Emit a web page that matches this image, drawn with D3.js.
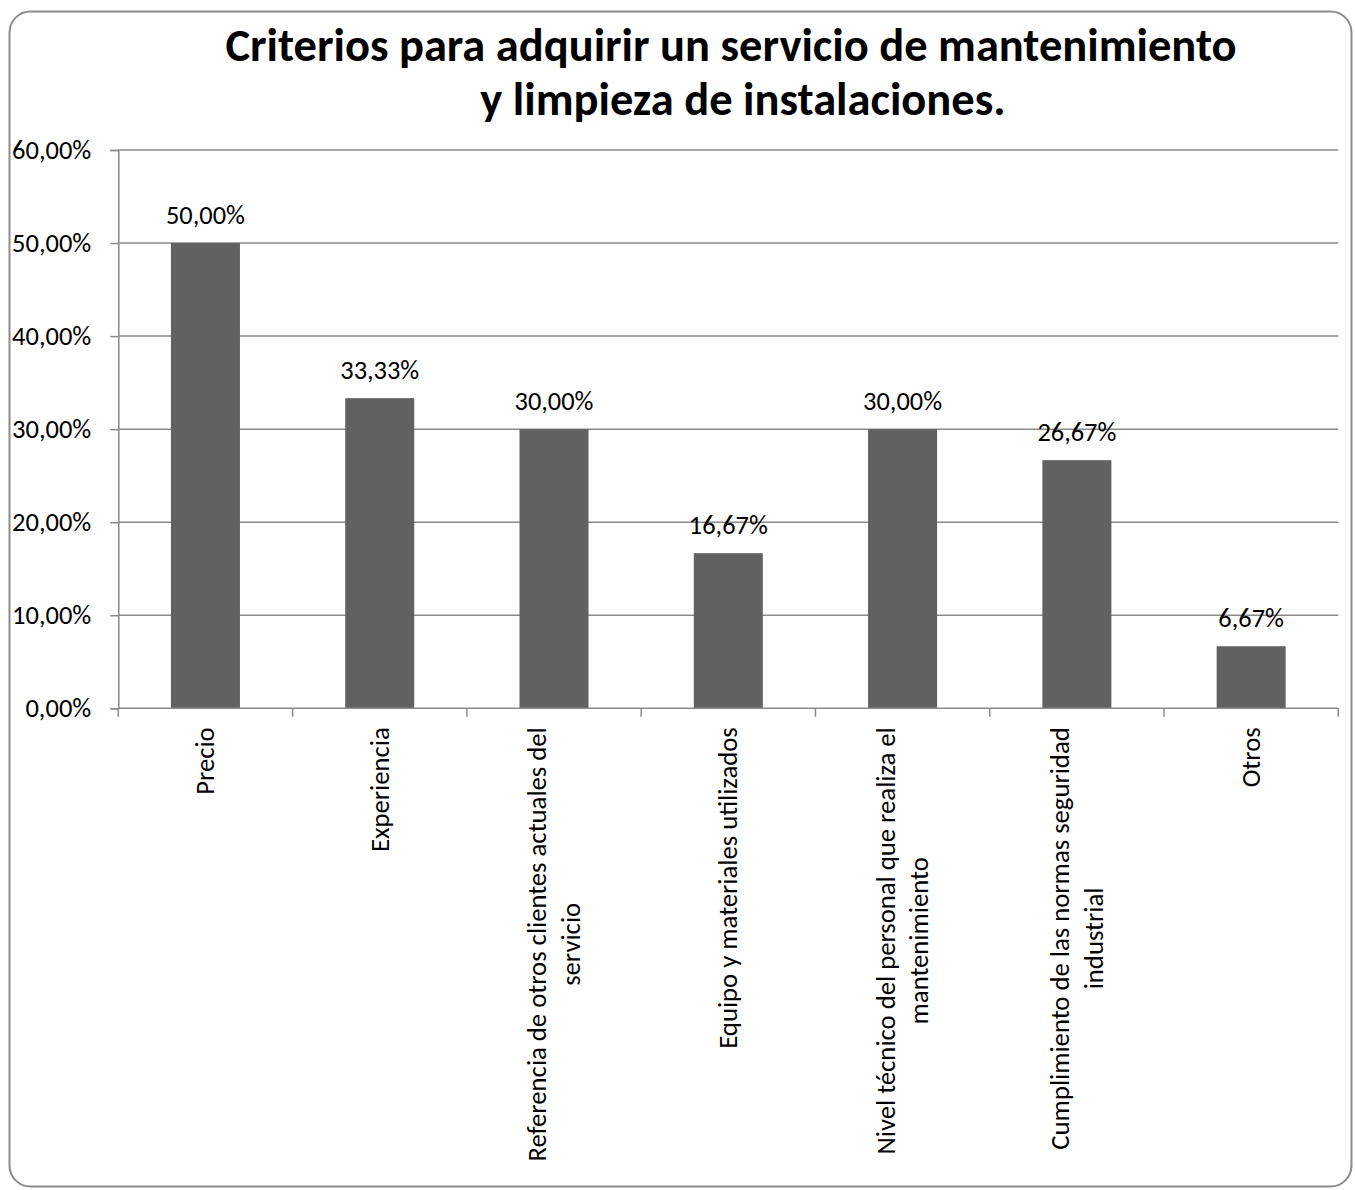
<!DOCTYPE html>
<html>
<head>
<meta charset="utf-8">
<script src="https://cdn.jsdelivr.net/npm/d3@7"></script>
<style>
  html, body { margin: 0; padding: 0; background: #ffffff; }
  svg { display: block; }
  text { font-family: Calibri, Carlito, Lato, "Open Sans", sans-serif; fill: #000; }
</style>
</head>
<body>
<svg id="chart" width="1355" height="1190"></svg>
<script>
// Survey results: criteria for hiring a maintenance & cleaning service
const titleLines = [
  "Criterios para adquirir un servicio de mantenimiento",
  "y limpieza de instalaciones."
];
const categories = [
  "Precio",
  "Experiencia",
  "Referencia de otros clientes actuales del servicio",
  "Equipo y materiales utilizados",
  "Nivel técnico del personal que realiza el mantenimiento",
  "Cumplimiento de las normas seguridad industrial",
  "Otros"
];
// wrapped form of each category label
const categoryLines = [
  ["Precio"],
  ["Experiencia"],
  ["Referencia de otros clientes actuales del", "servicio"],
  ["Equipo y materiales utilizados"],
  ["Nivel técnico del personal que realiza el", "mantenimiento"],
  ["Cumplimiento de las normas seguridad", "industrial"],
  ["Otros"]
];
const values = [0.5, 0.3333, 0.30, 0.1667, 0.30, 0.2667, 0.0667];
const yTicks = [0, 0.1, 0.2, 0.3, 0.4, 0.5, 0.6];

const svg = d3.select("#chart");

// chart frame
svg.append("rect")
  .attr("x", 9.5).attr("y", 11.5)
  .attr("width", 1342).attr("height", 1175)
  .attr("rx", 21).attr("ry", 21)
  .attr("fill", "#ffffff")
  .attr("stroke", "#8c8c8c")
  .attr("stroke-width", 2);

// title
const titleX = [731, 743];
svg.append("g").selectAll("text")
  .data(titleLines)
  .join("text")
  .attr("x", (d, i) => titleX[i])
  .attr("y", (d, i) => 61 + i * 53.5)
  .attr("text-anchor", "middle")
  .attr("font-weight", "bold")
  .attr("font-size", 46.5)
  .text(d => d);

const plot = { left: 118.3, right: 1338.3, top: 150, bottom: 708.3 };

const y = d3.scaleLinear().domain([0, 0.6]).range([plot.bottom, plot.top]);
const x = d3.scaleBand()
  .domain(categories)
  .range([plot.left, plot.right])
  .paddingInner(0.604)
  .paddingOuter(0.302);
const edges = d3.scaleLinear().domain([0, categories.length]).range([plot.left, plot.right]);

const locale = d3.formatLocale({ decimal: ",", thousands: ".", grouping: [3], currency: ["", "€"] });
const pct = locale.format(".2%");

const gridColor = "#8a8a8a";

// horizontal gridlines
svg.append("g").selectAll("line")
  .data(yTicks.filter(t => t > 0))
  .join("line")
  .attr("x1", plot.left).attr("x2", plot.right)
  .attr("y1", d => y(d)).attr("y2", d => y(d))
  .attr("stroke", gridColor).attr("stroke-width", 1.5);

// y axis
const yAxis = svg.append("g")
  .attr("transform", `translate(${plot.left},0)`)
  .call(d3.axisLeft(y).tickValues(yTicks).tickFormat(pct).tickSize(8).tickPadding(19));
yAxis.select(".domain").attr("stroke", gridColor).attr("stroke-width", 1.5);
yAxis.selectAll(".tick line").attr("stroke", gridColor).attr("stroke-width", 1.5);
yAxis.selectAll(".tick text")
  .attr("font-size", 26.5)
  .attr("fill", "#000")
  .style("font-family", "Calibri, Carlito, Lato, 'Open Sans', sans-serif");

// bars
svg.append("g").selectAll("rect")
  .data(values)
  .join("rect")
  .attr("x", (d, i) => x(categories[i]))
  .attr("width", x.bandwidth())
  .attr("y", d => y(d))
  .attr("height", d => y(0) - y(d))
  .attr("fill", "#616161");

// value labels
svg.append("g").selectAll("text")
  .data(values)
  .join("text")
  .attr("x", (d, i) => x(categories[i]) + x.bandwidth() / 2)
  .attr("y", d => y(d) - 19)
  .attr("text-anchor", "middle")
  .attr("font-size", 26.4)
  .text(d => pct(d));

// x axis line and boundary ticks
const xAxis = svg.append("g");
xAxis.append("line")
  .attr("x1", plot.left).attr("x2", plot.right)
  .attr("y1", plot.bottom).attr("y2", plot.bottom)
  .attr("stroke", gridColor).attr("stroke-width", 1.5);
xAxis.selectAll("line.tick")
  .data(d3.range(categories.length + 1))
  .join("line")
  .attr("class", "tick")
  .attr("x1", d => edges(d)).attr("x2", d => edges(d))
  .attr("y1", plot.bottom).attr("y2", plot.bottom + 8.5)
  .attr("stroke", gridColor).attr("stroke-width", 1.5);

// rotated category labels, top-aligned under the axis, lines centred on each other
const labelSize = 26.7;
const lineStep = 33.5;
const labelTop = plot.bottom + 19;
categoryLines.forEach((lines, i) => {
  const cx = x(categories[i]) + x.bandwidth() / 2;
  const g = svg.append("g");
  const texts = g.selectAll("text")
    .data(lines)
    .join("text")
    .attr("font-size", labelSize)
    .attr("text-anchor", "middle")
    .attr("dominant-baseline", "central")
    .text(d => d);
  const maxLen = d3.max(texts.nodes(), n => n.getComputedTextLength());
  const cy = labelTop + maxLen / 2;
  texts.attr("transform", (d, j) => {
    const off = (j - (lines.length - 1) / 2) * lineStep;
    return `translate(${cx + off},${cy}) rotate(-90)`;
  });
});
</script>
</body>
</html>
